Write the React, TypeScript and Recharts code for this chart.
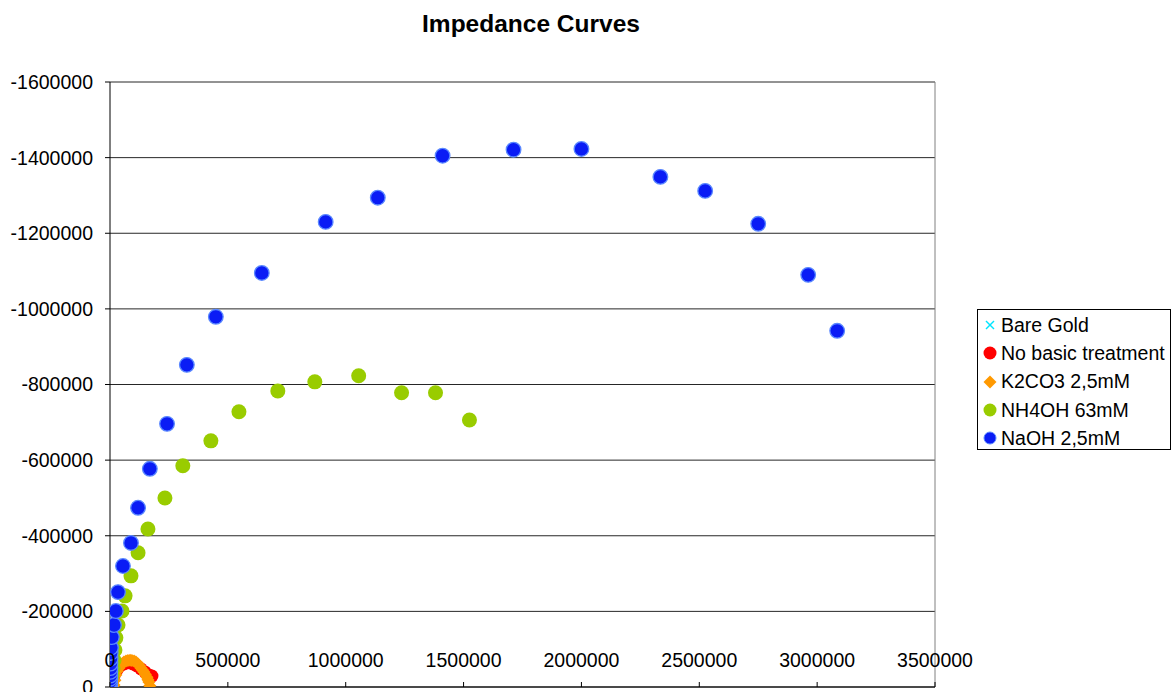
import React from 'react';
import { ScatterChart, Scatter, XAxis, YAxis, CartesianGrid, Legend, ReferenceLine } from 'recharts';

const FONT = '"Liberation Sans", Arial, sans-serif';

const xTicks = [0, 500000, 1000000, 1500000, 2000000, 2500000, 3000000, 3500000];
const yTicks = [0, -200000, -400000, -600000, -800000, -1000000, -1200000, -1400000, -1600000];

const seriesNames = ['Bare Gold', 'No basic treatment', 'K2CO3 2,5mM', 'NH4OH 63mM', 'NaOH 2,5mM'];

const bareGoldX = [1000, 2000, 3500, 5000, 6500, 8000, 9500];
const bareGoldY = [-500, -1200, -2000, -2500, -2200, -1500, -700];

const noTreatX = [8000, 17000, 30000, 42000, 59000, 76000, 97000, 114000, 131000, 148000, 165000, 178000];
const noTreatY = [-8000, -29000, -45000, -56000, -61000, -64000, -61000, -56000, -48000, -40000, -32000, -29000];

const k2co3X = [10000, 17000, 21000, 25000, 31000, 38000, 44000, 51000, 59000, 68000, 76000, 85000, 93000, 102000, 110000, 119000, 125000, 131000, 138000, 144000, 150000, 157000, 161000, 165000, 169000];
const k2co3Y = [-2000, -5000, -18000, -32000, -42000, -50000, -56000, -61000, -66000, -69000, -70000, -71000, -70000, -69000, -66000, -61000, -56000, -50000, -45000, -40000, -33000, -26000, -19000, -13000, -3000];

const nh4ohX = [3000, 4000, 8000, 13000, 17000, 21000, 25000, 34000, 51000, 64000, 89000, 119000, 161000, 233000, 309000, 428000, 547000, 712000, 869000, 1055000, 1237000, 1381000, 1525000];
const nh4ohY = [-8000, -19000, -32000, -50000, -71000, -98000, -130000, -164000, -201000, -241000, -294000, -355000, -418000, -500000, -585000, -651000, -728000, -783000, -807000, -823000, -778000, -778000, -706000];

const naohX = [200, 400, 600, 800, 1000, 1200, 1500, 1800, 2000, 2500, 3000, 4000, 8000, 17000, 25000, 34000, 55000, 89000, 119000, 169000, 242000, 326000, 449000, 644000, 915000, 1136000, 1411000, 1712000, 2000000, 2335000, 2525000, 2750000, 2962000, 3085000];
const naohY = [-2000, -5000, -9000, -15000, -22000, -30000, -40000, -50000, -62000, -75000, -90000, -104000, -132000, -164000, -201000, -251000, -320000, -381000, -474000, -577000, -696000, -852000, -979000, -1095000, -1230000, -1294000, -1405000, -1421000, -1423000, -1349000, -1312000, -1225000, -1090000, -942000];

const zip = (xs: number[], ys: number[]) => xs.map((x, i) => ({ x, y: ys[i] }));

const bareGold = zip(bareGoldX, bareGoldY);
const noTreat = zip(noTreatX, noTreatY);
const k2co3 = zip(k2co3X, k2co3Y);
const nh4oh = zip(nh4ohX, nh4ohY);
const naoh = zip(naohX, naohY);

const XShape = (p: any) => (
  <g>
    <line x1={p.cx - 4} y1={p.cy - 4} x2={p.cx + 4} y2={p.cy + 4} stroke="#00e5ff" strokeWidth={1.5} />
    <line x1={p.cx - 4} y1={p.cy + 4} x2={p.cx + 4} y2={p.cy - 4} stroke="#00e5ff" strokeWidth={1.5} />
  </g>
);
const RedShape = (p: any) => <circle cx={p.cx} cy={p.cy} r={6.5} fill="#ff0000" />;
const OrangeShape = (p: any) => (
  <path d={`M${p.cx},${p.cy - 6.5}L${p.cx + 6.5},${p.cy}L${p.cx},${p.cy + 6.5}L${p.cx - 6.5},${p.cy}Z`} fill="#ff9900" />
);
const GreenShape = (p: any) => <circle cx={p.cx} cy={p.cy} r={7.5} fill="#99cc00" />;
const BlueShape = (p: any) => <circle cx={p.cx} cy={p.cy} r={7.3} fill="#0a1cf5" stroke="#5a88ff" strokeWidth={1.3} />;

const XTick = (props: any) => {
  const { x, y, payload } = props;
  return (
    <g>
      <line x1={x} x2={x} y1={y} y2={y - 5} stroke="#000" />
      <text x={x} y={y - 20} textAnchor="middle" fontSize={19.5} fill="#000" fontFamily={FONT}>
        {payload.value}
      </text>
    </g>
  );
};

const legendMarkers = [
  <svg width={14} height={14} key="m0"><line x1={3} y1={3} x2={11} y2={11} stroke="#00e5ff" strokeWidth={1.5} /><line x1={3} y1={11} x2={11} y2={3} stroke="#00e5ff" strokeWidth={1.5} /></svg>,
  <svg width={14} height={14} key="m1"><circle cx={7} cy={7} r={6.5} fill="#ff0000" /></svg>,
  <svg width={14} height={14} key="m2"><path d="M7,0.5L13.5,7L7,13.5L0.5,7Z" fill="#ff9900" /></svg>,
  <svg width={14} height={14} key="m3"><circle cx={7} cy={7} r={6.5} fill="#99cc00" /></svg>,
  <svg width={14} height={14} key="m4"><circle cx={7} cy={7} r={6} fill="#0a1cf5" stroke="#5a88ff" strokeWidth={1} /></svg>,
];

const LegendBox = () => (
  <div style={{ border: '1px solid #000', width: 194, height: 141, boxSizing: 'border-box', paddingTop: 1, background: '#fff', fontFamily: FONT, fontSize: 19.5, color: '#000' }}>
    {seriesNames.map((n, i) => (
      <div key={n} style={{ display: 'flex', alignItems: 'center', height: 28.3, paddingLeft: 5, whiteSpace: 'nowrap' }}>
        {legendMarkers[i]}
        <span style={{ marginLeft: 4 }}>{n}</span>
      </div>
    ))}
  </div>
);

export default function App() {
  return (
    <div style={{ position: 'absolute', left: 0, top: 0, width: 1173, height: 692, background: '#fff', overflow: 'hidden' }}>
      <div style={{ position: 'absolute', left: 0, top: 12, width: 1062, textAlign: 'center', fontFamily: FONT, fontWeight: 'bold', fontSize: 24.5, lineHeight: '24px', color: '#000' }}>
        Impedance Curves
      </div>
      <ScatterChart width={1173} height={692} margin={{ top: 82, right: 238, bottom: 0, left: 10 }}>
        <CartesianGrid horizontal={true} vertical={false} stroke="#000" strokeOpacity={0.85} />
        <XAxis
          type="number"
          dataKey="x"
          domain={[0, 3500000]}
          ticks={xTicks}
          interval={0}
          tick={<XTick />}
          tickLine={false}
          tickSize={0}
          tickMargin={0}
          height={5}
          axisLine={{ stroke: '#000' }}
          allowDataOverflow
        />
        <YAxis
          type="number"
          dataKey="y"
          domain={[-1600000, 0]}
          reversed
          ticks={yTicks}
          interval={0}
          width={100}
          tickSize={5}
          tickMargin={12}
          tick={{ fontSize: 19.5, fill: '#000', fontFamily: FONT }}
          tickLine={{ stroke: '#000' }}
          axisLine={{ stroke: '#000' }}
          allowDataOverflow
        />
        <ReferenceLine x={3500000} stroke="#808080" />
        <Legend
          layout="vertical"
          align="center"
          verticalAlign="middle"
          content={() => <LegendBox />}
          wrapperStyle={{ left: 977, top: 309, width: 196, height: 143 }}
        />
        <Scatter name={seriesNames[0]} data={bareGold} shape={XShape} isAnimationActive={false} />
        <Scatter name={seriesNames[1]} data={noTreat} shape={RedShape} isAnimationActive={false} />
        <Scatter name={seriesNames[2]} data={k2co3} shape={OrangeShape} isAnimationActive={false} />
        <Scatter name={seriesNames[3]} data={nh4oh} shape={GreenShape} isAnimationActive={false} />
        <Scatter name={seriesNames[4]} data={naoh} shape={BlueShape} isAnimationActive={false} />
      </ScatterChart>
    </div>
  );
}
